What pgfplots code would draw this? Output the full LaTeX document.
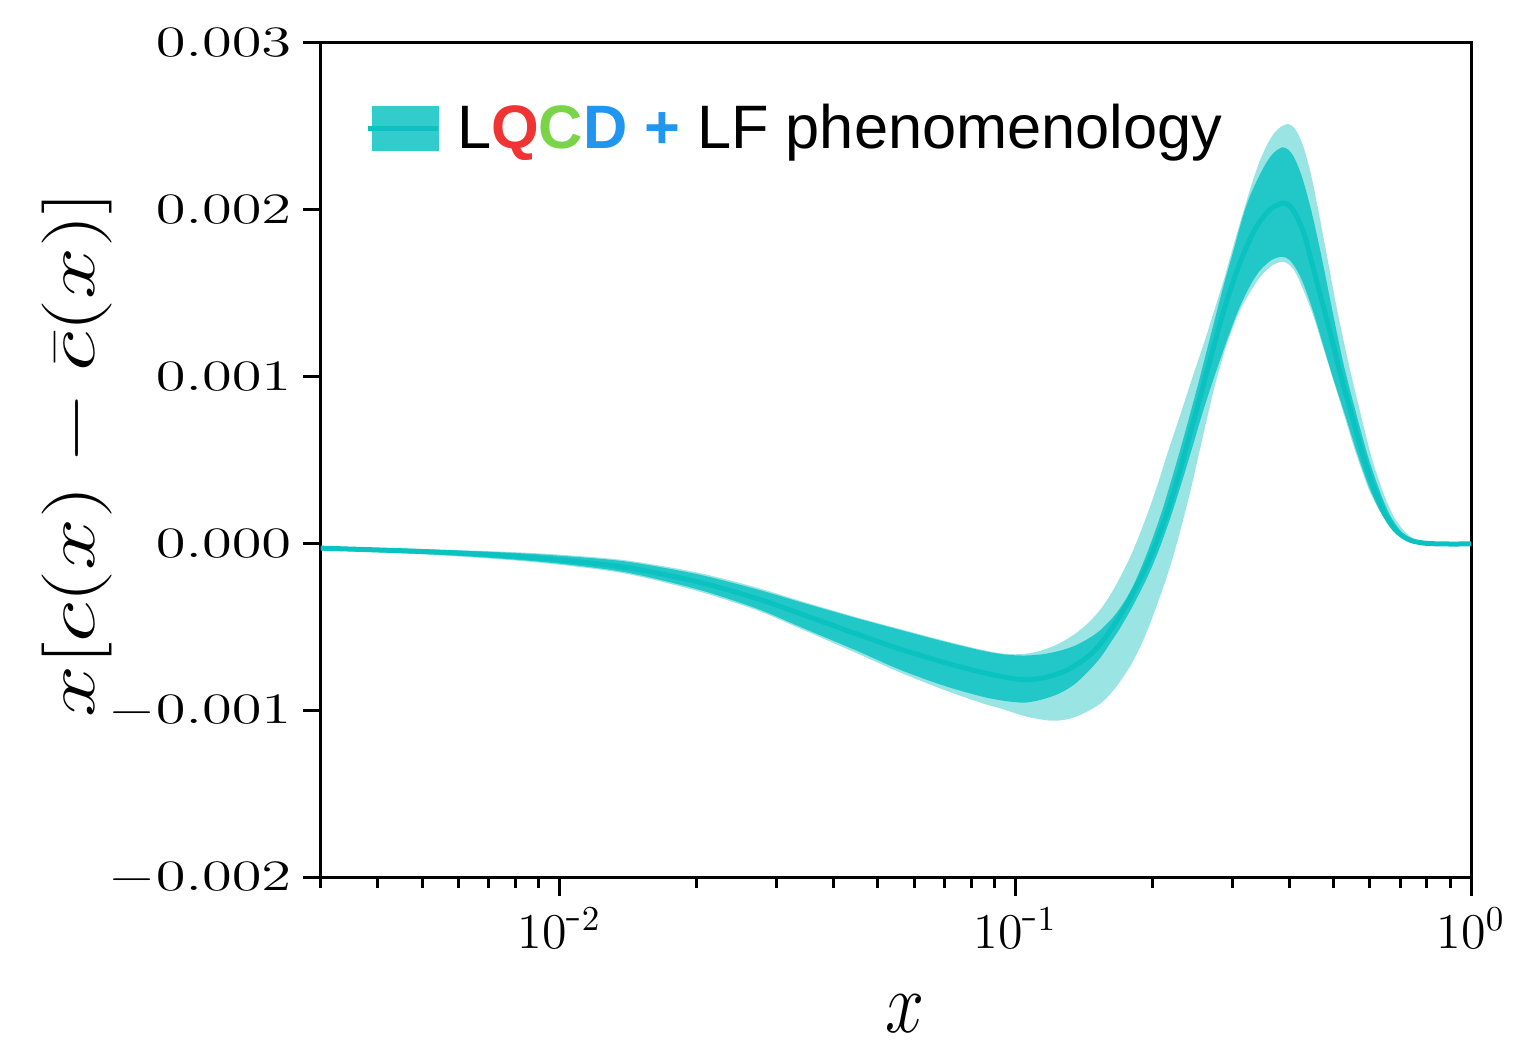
\RequirePackage{fix-cm}
\documentclass[border=0pt]{standalone}
\usepackage{fontspec}
\setsansfont{Liberation Sans}
\usepackage{graphicx}
\usepackage{pgfplots}
\usepackage{pgfplotstable}
\pgfplotsset{compat=1.18}
\usepgfplotslibrary{fillbetween}

\definecolor{bandlight}{RGB}{154,228,228}
\definecolor{banddark}{RGB}{34,200,200}
\definecolor{cline}{RGB}{10,194,192}
\definecolor{legpatch}{RGB}{51,204,204}
\definecolor{legline}{RGB}{16,192,192}
\definecolor{qred}{RGB}{240,52,52}
\definecolor{cgreen}{RGB}{122,212,72}
\definecolor{dblue}{RGB}{32,150,240}

% values in units of 1e-3
\pgfplotstableread{
x y
0.003 -0.025
0.005 -0.045
0.0075 -0.068
0.01 -0.096
0.014 -0.14
0.02 -0.225
0.027 -0.325
0.034 -0.42
0.045 -0.54
0.056 -0.63
0.07 -0.71
0.085 -0.77
0.1 -0.808
0.11 -0.81
0.12 -0.79
0.13 -0.755
0.142 -0.69
0.152 -0.615
0.162 -0.515
0.175 -0.37
0.188 -0.21
0.2 -0.05
0.2137 0.16
0.225 0.35
0.2364 0.56
0.25 0.80
0.2601 0.975
0.2725 1.18
0.287 1.40
0.3015 1.58
0.315 1.72
0.3281 1.83
0.34 1.91
0.3508 1.96
0.365 2.01
0.3855 2.04
0.4 2.025
0.415 1.96
0.43 1.86
0.444 1.72
0.46 1.56
0.4789 1.38
0.5 1.18
0.52 0.99
0.548 0.77
0.575 0.56
0.6 0.40
0.6213 0.29
0.65 0.17
0.68 0.09
0.71 0.045
0.74 0.02
0.78 0.007
0.82 0.002
0.87 0.0
1.0 0.0
}\central

\pgfplotstableread{
x y
0.003 -0.015
0.005 -0.033
0.0075 -0.05
0.01 -0.07
0.014 -0.105
0.02 -0.18
0.027 -0.27
0.034 -0.35
0.045 -0.445
0.056 -0.515
0.07 -0.585
0.085 -0.64
0.095 -0.662
0.105 -0.668
0.115 -0.66
0.125 -0.64
0.135 -0.61
0.145 -0.565
0.1539 -0.515
0.165 -0.43
0.175 -0.33
0.1837 -0.22
0.195 -0.05
0.2084 0.17
0.22 0.38
0.2305 0.57
0.2415 0.77
0.2527 0.97
0.2627 1.15
0.275 1.36
0.2867 1.55
0.3 1.74
0.315 1.95
0.3281 2.09
0.3425 2.20
0.3568 2.29
0.37 2.345
0.3855 2.375
0.398 2.36
0.41 2.31
0.4268 2.19
0.4478 1.98
0.47 1.72
0.4954 1.41
0.525 1.08
0.56 0.78
0.595 0.52
0.6319 0.31
0.665 0.17
0.70 0.08
0.73 0.04
0.76 0.018
0.80 0.005
0.85 0.001
0.9 0.0
1.0 0.0
}\innerup

\pgfplotstableread{
x y
0.003 -0.035
0.005 -0.058
0.0075 -0.088
0.01 -0.118
0.014 -0.17
0.02 -0.27
0.027 -0.385
0.034 -0.50
0.045 -0.64
0.056 -0.754
0.07 -0.85
0.085 -0.915
0.095 -0.94
0.105 -0.95
0.115 -0.93
0.125 -0.895
0.135 -0.84
0.145 -0.76
0.1539 -0.68
0.162 -0.59
0.1689 -0.515
0.18 -0.385
0.1949 -0.20
0.207 -0.03
0.2199 0.17
0.232 0.37
0.2445 0.575
0.258 0.79
0.2725 0.99
0.2916 1.22
0.31 1.41
0.3281 1.55
0.345 1.64
0.365 1.70
0.3855 1.72
0.4 1.70
0.415 1.64
0.43 1.55
0.4507 1.39
0.475 1.18
0.5 0.98
0.5297 0.77
0.56 0.56
0.59 0.38
0.62 0.24
0.65 0.14
0.68 0.075
0.71 0.037
0.74 0.017
0.78 0.006
0.82 0.001
0.87 0.0
1.0 0.0
}\innerlo

\pgfplotstableread{
x y
0.003 -0.012
0.005 -0.03
0.0075 -0.046
0.01 -0.064
0.014 -0.098
0.02 -0.17
0.027 -0.26
0.034 -0.343
0.045 -0.44
0.056 -0.51
0.07 -0.58
0.085 -0.635
0.095 -0.658
0.105 -0.658
0.115 -0.635
0.125 -0.595
0.135 -0.54
0.145 -0.47
0.155 -0.38
0.1661 -0.25
0.18 -0.06
0.1932 0.15
0.205 0.35
0.2162 0.55
0.23 0.77
0.245 1.0
0.26 1.21
0.2735 1.40
0.2867 1.58
0.3 1.77
0.3135 1.95
0.3281 2.13
0.3425 2.28
0.3568 2.39
0.37 2.46
0.3835 2.50
0.3973 2.515
0.41 2.49
0.42 2.44
0.43 2.37
0.445 2.22
0.4592 2.04
0.485 1.70
0.5095 1.39
0.54 1.07
0.5713 0.79
0.605 0.52
0.6414 0.31
0.675 0.17
0.7096 0.085
0.74 0.04
0.77 0.018
0.81 0.005
0.86 0.001
0.9 0.0
1.0 0.0
}\outerup

\pgfplotstableread{
x y
0.003 -0.038
0.005 -0.062
0.0075 -0.093
0.01 -0.124
0.014 -0.178
0.02 -0.28
0.027 -0.395
0.034 -0.51
0.045 -0.655
0.056 -0.77
0.07 -0.875
0.085 -0.955
0.0929 -0.985
0.1064 -1.035
0.1197 -1.058
0.13 -1.05
0.14 -1.02
0.1539 -0.955
0.165 -0.87
0.179 -0.73
0.19 -0.59
0.2 -0.44
0.2137 -0.22
0.224 -0.04
0.2344 0.16
0.244 0.35
0.254 0.56
0.2645 0.77
0.2749 0.96
0.2916 1.2
0.31 1.39
0.3281 1.51
0.345 1.60
0.365 1.665
0.3855 1.69
0.4 1.67
0.415 1.61
0.4462 1.40
0.47 1.21
0.495 1.01
0.5244 0.79
0.555 0.57
0.585 0.39
0.6007 0.31
0.63 0.20
0.66 0.11
0.69 0.055
0.72 0.025
0.76 0.009
0.80 0.002
0.86 0.0
1.0 0.0
}\outerlo

\begin{document}
\begin{tikzpicture}
\begin{axis}[
  scale only axis,
  width=345pt, height=250.5pt,
  xmode=log,
  xmin=0.003, xmax=1,
  ymin=-2, ymax=3,
  axis line style={line width=0.9pt},
  every tick/.style={black, line width=0.9pt},
  tick align=outside,
  xtick pos=bottom, ytick pos=left,
  major tick length=5.4pt,
  minor tick length=3pt,
  xtick={0.01,0.1,1},
  xticklabels={$10^{\textrm{-}2}$,$10^{\textrm{-}1}$,$10^{0}$},
  minor xtick={0.003,0.004,0.005,0.006,0.007,0.008,0.009,0.02,0.03,0.04,0.05,0.06,0.07,0.08,0.09,0.2,0.3,0.4,0.5,0.6,0.7,0.8,0.9},
  ytick={-2,-1,0,1,2,3},
  yticklabels={\scalebox{1.4}[1]{$-0.002$},\scalebox{1.4}[1]{$-0.001$},\scalebox{1.4}[1]{$0.000$},\scalebox{1.4}[1]{$0.001$},\scalebox{1.4}[1]{$0.002$},\scalebox{1.4}[1]{$0.003$}},
  yticklabel style={font=\fontsize{13}{15}\selectfont},
  xticklabel style={font=\fontsize{15}{18}\selectfont},
  xlabel={\scalebox{1}[1.25]{$x$}},
  xlabel style={font=\fontsize{21}{25}\selectfont, inner sep=0pt, at={(axis description cs:0.508,-0.163)}, anchor=center},
  ylabel={\scalebox{1.33}[1]{$x[c(x)-\bar{c}(x)]$}},
  ylabel style={font=\fontsize{21}{25}\selectfont, inner sep=0pt, at={(axis description cs:-0.212,0.507)}, anchor=center},
  legend style={draw=none, fill=none, inner sep=0pt, column sep=5.0pt,
    at={(axis description cs:0.038,0.928)}, anchor=north west,
    nodes={inner sep=0pt},
    font=\sffamily\fontsize{18.4}{22}\selectfont},
  legend cell align=left,
]
\addplot[name path=OU, draw=none, smooth, forget plot] table {\outerup};
\addplot[name path=OL, draw=none, smooth, forget plot] table {\outerlo};
\addplot[name path=IU, draw=none, smooth, forget plot] table {\innerup};
\addplot[name path=IL, draw=none, smooth, forget plot] table {\innerlo};
\addplot[fill=bandlight, draw=none, forget plot] fill between[of=OU and OL];
\addplot[fill=banddark, draw=none, forget plot] fill between[of=IU and IL];
\addplot[cline, line width=1.5pt, smooth, forget plot] table {\central};
\addlegendimage{legend image code/.code={
  \fill[legpatch] (0pt,-6.45pt) rectangle (19.5pt,6.45pt);
  \draw[legline, line width=1.5pt] (-1.5pt,0pt) -- (19.5pt,0pt);}}
\addlegendentry{L\textbf{\color{qred}Q}\textbf{\color{cgreen}C}\textbf{\color{dblue}D} \textbf{\color{dblue}+} LF phenomenology}
\end{axis}
\pgfresetboundingbox
\path[use as bounding box] ([xshift=-96.3pt,yshift=-50.7pt]current axis.south west) rectangle ([xshift=13.5pt,yshift=12.9pt]current axis.north east);
\end{tikzpicture}
\end{document}
